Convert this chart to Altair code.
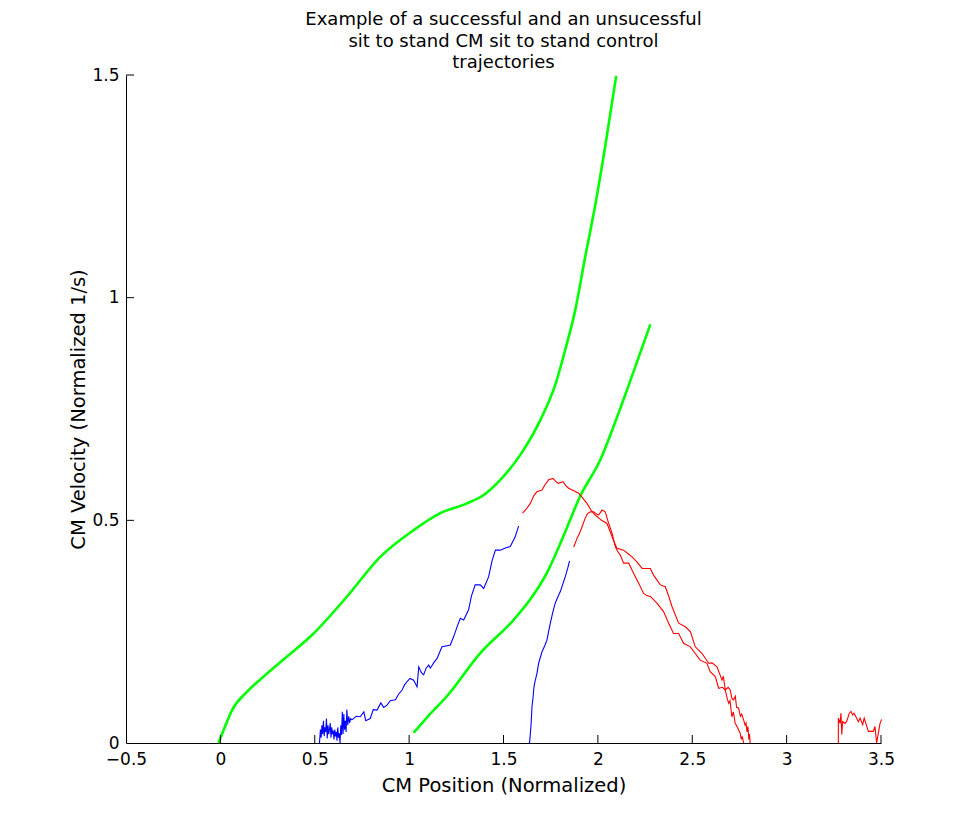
import altair as alt
import pandas as pd

# ---------------- data ----------------
green1_x = [-0.01, 0.018, 0.062, 0.141, 0.229, 0.353, 0.494, 0.671, 0.847, 1.024, 1.165,
            1.306, 1.395, 1.483, 1.589, 1.695, 1.774, 1.827, 1.88, 1.93, 1.986, 2.04, 2.097]
green1_y = [0.0, 0.03, 0.074, 0.115, 0.149, 0.194, 0.246, 0.329, 0.418, 0.478, 0.516,
            0.538, 0.557, 0.591, 0.647, 0.725, 0.804, 0.883, 0.972, 1.085, 1.208, 1.343, 1.498]

green2_x = [1.024, 1.1, 1.2, 1.377, 1.553, 1.641, 1.73, 1.817, 1.906, 2.013, 2.1, 2.19, 2.278]
green2_y = [0.023, 0.06, 0.105, 0.202, 0.276, 0.322, 0.382, 0.464, 0.554, 0.636, 0.73, 0.835, 0.94]

blue1_x = [0.525, 0.53, 0.534, 0.538, 0.542, 0.546, 0.55, 0.554, 0.558, 0.562, 0.566, 0.57,
           0.574, 0.578, 0.582, 0.586, 0.59, 0.594, 0.598, 0.602, 0.606, 0.61, 0.614, 0.618,
           0.622, 0.626, 0.63, 0.634, 0.638, 0.642, 0.646, 0.65, 0.654, 0.658, 0.662, 0.666,
           0.67, 0.675, 0.68, 0.685, 0.69, 0.697, 0.72, 0.741, 0.76, 0.77, 0.794, 0.81, 0.83,
           0.85, 0.865, 0.883, 0.9, 0.927, 0.945, 0.963, 0.975, 0.989, 1.005, 1.024, 1.042,
           1.051, 1.065, 1.077, 1.09, 1.104, 1.112, 1.13, 1.148, 1.174, 1.195, 1.218, 1.236,
           1.255, 1.271, 1.289, 1.315, 1.33, 1.35, 1.377, 1.395, 1.421, 1.44, 1.457, 1.483,
           1.51, 1.536, 1.562, 1.58]
blue1_y = [0.0, 0.03, 0.012, 0.04, 0.02, 0.05, 0.015, 0.035, 0.025, 0.055, 0.01, 0.04,
           0.02, 0.03, 0.045, 0.012, 0.035, 0.02, 0.028, 0.008, 0.03, 0.015, 0.025, 0.005,
           0.035, 0.012, 0.022, 0.0, 0.04, 0.018, 0.07, 0.02, 0.065, 0.03, 0.05, 0.025,
           0.075, 0.04, 0.06, 0.045, 0.055, 0.052, 0.06, 0.059, 0.07, 0.05, 0.055, 0.075, 0.074,
           0.09, 0.08, 0.085, 0.095, 0.097, 0.11, 0.119, 0.13, 0.138, 0.145, 0.141, 0.126,
           0.171, 0.158, 0.153, 0.168, 0.175, 0.168, 0.18, 0.19, 0.216, 0.218, 0.22, 0.239,
           0.262, 0.28, 0.276, 0.299, 0.33, 0.355, 0.355, 0.347, 0.373, 0.41, 0.433, 0.433,
           0.438, 0.441, 0.463, 0.487]

blue2_x = [1.638, 1.642, 1.646, 1.651, 1.656, 1.66, 1.663, 1.668, 1.677, 1.686, 1.695, 1.704,
           1.718, 1.73, 1.748, 1.762, 1.774, 1.79, 1.801, 1.815, 1.827, 1.84, 1.85]
blue2_y = [0.0, 0.02, 0.041, 0.082, 0.1, 0.119, 0.13, 0.14, 0.156, 0.179, 0.192, 0.205,
           0.218, 0.231, 0.269, 0.295, 0.314, 0.33, 0.34, 0.358, 0.373, 0.392, 0.409]

red1_x = [1.601, 1.62, 1.642, 1.66, 1.677, 1.704, 1.72, 1.739, 1.762, 1.78, 1.792, 1.815,
          1.83, 1.845, 1.87, 1.898, 1.92, 1.942, 1.965, 1.986, 2.02, 2.048, 2.062, 2.075,
          2.101, 2.136, 2.16, 2.181, 2.21, 2.234, 2.278, 2.295, 2.331, 2.357, 2.375, 2.393,
          2.428, 2.463, 2.49, 2.516, 2.552, 2.587, 2.605, 2.631, 2.658, 2.665, 2.675, 2.69,
          2.701, 2.71, 2.719, 2.728, 2.735, 2.746, 2.755, 2.762, 2.772, 2.78, 2.785, 2.79,
          2.795, 2.8, 2.803, 2.807]
red1_y = [0.516, 0.525, 0.538, 0.555, 0.564, 0.568, 0.58, 0.591, 0.594, 0.586, 0.583, 0.587,
          0.578, 0.572, 0.567, 0.561, 0.55, 0.538, 0.522, 0.512, 0.5, 0.493, 0.478, 0.463,
          0.437, 0.433, 0.425, 0.418, 0.405, 0.392, 0.392, 0.377, 0.355, 0.351, 0.33, 0.306,
          0.269, 0.261, 0.25, 0.216, 0.201, 0.179, 0.18, 0.171, 0.141, 0.15, 0.119, 0.125,
          0.119, 0.1, 0.097, 0.105, 0.08, 0.078, 0.06, 0.065, 0.052, 0.04, 0.045, 0.025,
          0.037, 0.008, 0.02, 0.0]

red2_x = [1.872, 1.89, 1.907, 1.92, 1.933, 1.945, 1.96, 1.977, 1.99, 2.004, 2.022, 2.039,
          2.057, 2.075, 2.092, 2.105, 2.119, 2.136, 2.163, 2.189, 2.216, 2.242, 2.26, 2.278,
          2.313, 2.348, 2.375, 2.401, 2.428, 2.454, 2.49, 2.516, 2.542, 2.578, 2.595, 2.622,
          2.64, 2.66, 2.675, 2.685, 2.693, 2.7, 2.71, 2.718, 2.727, 2.737, 2.745, 2.754,
          2.76, 2.765, 2.772]
red2_y = [0.44, 0.46, 0.475, 0.49, 0.505, 0.515, 0.519, 0.519, 0.515, 0.512, 0.523, 0.519,
          0.493, 0.471, 0.441, 0.43, 0.422, 0.404, 0.404, 0.381, 0.359, 0.336, 0.331, 0.329,
          0.314, 0.295, 0.269, 0.246, 0.246, 0.224, 0.216, 0.201, 0.186, 0.179, 0.16, 0.149,
          0.123, 0.125, 0.119, 0.1, 0.089, 0.095, 0.059, 0.07, 0.045, 0.037, 0.03, 0.022,
          0.008, 0.015, 0.0]

red3_x = [3.274, 3.274, 3.283, 3.288, 3.292, 3.297, 3.309, 3.318, 3.332, 3.341, 3.35, 3.357,
          3.367, 3.38, 3.389, 3.403, 3.411, 3.42, 3.433, 3.459, 3.468, 3.477, 3.486, 3.495, 3.503]
red3_y = [0.0, 0.056, 0.044, 0.067, 0.019, 0.048, 0.044, 0.048, 0.067, 0.071, 0.063, 0.067,
          0.059, 0.048, 0.056, 0.041, 0.056, 0.044, 0.026, 0.026, 0.037, 0.0, 0.022, 0.044, 0.053]

x_ticks = [-0.5, 0, 0.5, 1, 1.5, 2, 2.5, 3, 3.5]
y_ticks = [0, 0.5, 1, 1.5]

title_lines = ["Example of a successful and an unsucessful",
               "sit to stand CM sit to stand control",
               "trajectories"]
x_title = "CM Position (Normalized)"
y_title = "CM Velocity (Normalized 1/s)"

# ---------------- build tables ----------------
def curve(name, xs, ys):
    return pd.DataFrame({"x": xs, "y": ys, "curve": name, "i": list(range(len(xs)))})

green_df = pd.concat([curve("g1", green1_x, green1_y), curve("g2", green2_x, green2_y)])
blue_df = pd.concat([curve("b1", blue1_x, blue1_y), curve("b2", blue2_x, blue2_y)])
red_df = pd.concat([curve("r1", red1_x, red1_y), curve("r2", red2_x, red2_y),
                    curve("r3", red3_x, red3_y)])

W, H = 755, 668
FONT = "DejaVu Sans"

x_scale = alt.Scale(domain=[-0.5, 3.5], nice=False, zero=False)
y_scale = alt.Scale(domain=[0, 1.5], nice=False, zero=False)

x_axis = alt.Axis(values=x_ticks, format="~g", ticks=False, tickSize=0, grid=False,
                  domainColor="black", domainWidth=1, labelFont=FONT, labelFontSize=17,
                  labelColor="black", labelPadding=8, labelFlush=False, labelOverlap=False,
                  title=x_title, titleFont=FONT, titleFontSize=19.5, titleFontWeight="normal",
                  titleColor="black", titleX=W / 2, titleY=42, titleAlign="center",
                  titleBaseline="middle")
y_axis = alt.Axis(values=y_ticks, format="~g", ticks=False, tickSize=0, grid=False,
                  domainColor="black", domainWidth=1, labelFont=FONT, labelFontSize=17,
                  labelColor="black", labelPadding=7, labelFlush=False, labelOverlap=False,
                  title=y_title, titleFont=FONT, titleFontSize=19.5, titleFontWeight="normal",
                  titleColor="black", titleX=-48, titleY=H / 2, titleAngle=270,
                  titleAlign="center", titleBaseline="middle")

X = alt.X("x:Q", scale=x_scale, axis=x_axis)
Y = alt.Y("y:Q", scale=y_scale, axis=y_axis)

green = alt.Chart(green_df).mark_line(color="#00ff00", strokeWidth=2.6,
                                      interpolate="monotone").encode(
    x=X, y=Y, detail="curve:N", order="i:Q")
blue = alt.Chart(blue_df).mark_line(color="#0000ff", strokeWidth=1.1).encode(
    x=X, y=Y, detail="curve:N", order="i:Q")
red = alt.Chart(red_df).mark_line(color="#ff0000", strokeWidth=1.1).encode(
    x=X, y=Y, detail="curve:N", order="i:Q")

xt = alt.Chart(pd.DataFrame({"x": x_ticks[1:]})).mark_rule(color="black", strokeWidth=1).encode(
    x=X, y=alt.value(H), y2=alt.value(H - 8))
yt = alt.Chart(pd.DataFrame({"y": y_ticks[1:]})).mark_rule(color="black", strokeWidth=1).encode(
    y=Y, x=alt.value(0), x2=alt.value(8))

chart = alt.layer(green, blue, red, xt, yt).properties(
    width=W, height=H,
    autosize=alt.AutoSizeParams(type="none"),
    padding={"left": 118, "top": 67, "right": 80, "bottom": 80},
    background="white",
    title=alt.TitleParams(text=title_lines, font=FONT, fontSize=18, fontWeight="normal",
                          color="black", anchor="middle", lineHeight=21.5, baseline="bottom",
                          offset=8, dy=32),
).configure_view(stroke=None)

chart.save("out.html", embed_options={"renderer": "svg", "actions": False})
